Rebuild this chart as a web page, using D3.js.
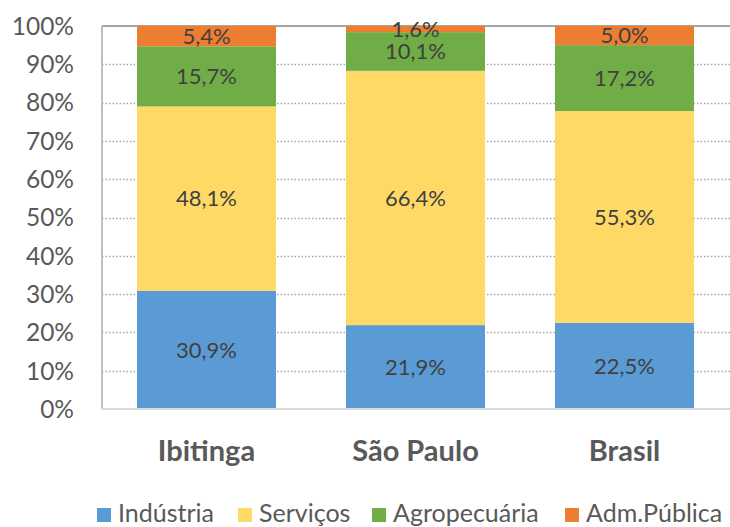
<!DOCTYPE html>
<html>
<head>
<meta charset="utf-8">
<script src="https://cdn.jsdelivr.net/npm/d3@7"></script>
<style>
  html, body { margin: 0; padding: 0; background: #fff; }
  svg { display: block; font-family: Lato, "Open Sans", sans-serif; }
</style>
</head>
<body>
<svg id="chart" width="730" height="527"></svg>
<script>
// Composição do valor adicionado por setor (%)
const regions = ["Ibitinga", "São Paulo", "Brasil"];
const sectors = ["Indústria", "Serviços", "Agropecuária", "Adm.Pública"];
const industria    = [30.9, 21.9, 22.5];
const servicos     = [48.1, 66.4, 55.3];
const agropecuaria = [15.7, 10.1, 17.2];
const admPublica   = [5.4, 1.6, 5.0];
const yTicks = [0, 10, 20, 30, 40, 50, 60, 70, 80, 90, 100];
const colors = ["#5B9BD5", "#FFD966", "#70AD47", "#ED7D31"];

const rows = regions.map((r, i) => ({
  region: r,
  "Indústria": industria[i],
  "Serviços": servicos[i],
  "Agropecuária": agropecuaria[i],
  "Adm.Pública": admPublica[i]
}));

const svg = d3.select("#chart");
const margin = { left: 102, right: 1, top: 26, bottom: 118 };
const W = 730, H = 527;
const x = d3.scaleBand().domain(regions)
  .range([margin.left, W - margin.right]).paddingInner(0.335).paddingOuter(0.1675);
const y = d3.scaleLinear().domain([0, 100]).range([H - margin.bottom, margin.top]);
const color = d3.scaleOrdinal().domain(sectors).range(colors);

// Linhas de grade pontilhadas
svg.append("g").selectAll("line")
  .data(yTicks.filter(t => t > 0 && t < 100))
  .join("line")
  .attr("x1", margin.left).attr("x2", W)
  .attr("y1", d => Math.round(y(d)) + 0.5).attr("y2", d => Math.round(y(d)) + 0.5)
  .attr("stroke", "#A6A6A6").attr("stroke-width", 1.5)
  .attr("stroke-dasharray", "1.5,2");

// Borda superior e eixo esquerdo
svg.append("line").attr("x1", margin.left).attr("x2", W)
  .attr("y1", y(100)).attr("y2", y(100))
  .attr("stroke", "#A6A6A6").attr("stroke-width", 2);
svg.append("line").attr("x1", margin.left).attr("x2", margin.left)
  .attr("y1", y(100)).attr("y2", y(0))
  .attr("stroke", "#BFBFBF").attr("stroke-width", 2);

// Barras empilhadas
const stack = d3.stack().keys(sectors)(rows);
const clampY = v => y(Math.min(v, 100));
const layers = svg.append("g").selectAll("g").data(stack).join("g")
  .attr("fill", d => color(d.key));
layers.selectAll("rect").data(d => d).join("rect")
  .attr("x", d => x(d.data.region))
  .attr("width", x.bandwidth())
  .attr("y", d => clampY(d[1]))
  .attr("height", d => clampY(d[0]) - clampY(d[1]));

// Eixo horizontal (linha base)
svg.append("line").attr("x1", margin.left).attr("x2", W)
  .attr("y1", y(0)).attr("y2", y(0))
  .attr("stroke", "#D9D9D9").attr("stroke-width", 2);

// Rótulos de dados
const fmt = v => v.toFixed(1).replace(".", ",") + "%";
const labels = svg.append("g").attr("font-size", 22).attr("fill", "#404040")
  .attr("text-anchor", "middle");
stack.forEach(layer => {
  layer.forEach(d => {
    const v = d.data[layer.key];
    labels.append("text")
      .attr("x", x(d.data.region) + x.bandwidth() / 2)
      .attr("y", (clampY(d[0]) + clampY(d[1])) / 2)
      .attr("dy", "0.36em")
      .text(fmt(v));
  });
});

// Rótulos do eixo Y
svg.append("g").attr("font-size", 24.5).attr("fill", "#595959").attr("text-anchor", "end")
  .selectAll("text").data(yTicks).join("text")
  .attr("x", 74).attr("y", d => y(d)).attr("dy", "0.36em")
  .text(d => d + "%");

// Rótulos das categorias
svg.append("g").attr("font-size", 29).attr("font-weight", "bold").attr("fill", "#595959")
  .attr("text-anchor", "middle")
  .selectAll("text").data(regions).join("text")
  .attr("x", d => x(d) + x.bandwidth() / 2).attr("y", 461)
  .text(d => d);

// Legenda
const legendX = [97, 238, 372, 565];
const legend = svg.append("g").selectAll("g").data(sectors).join("g")
  .attr("transform", (d, i) => `translate(${legendX[i]},515)`);
legend.append("rect").attr("x", 0).attr("y", -7).attr("width", 14).attr("height", 14)
  .attr("fill", d => color(d));
legend.append("text").attr("x", 21).attr("y", 7)
  .attr("font-size", 25).attr("fill", "#595959").text(d => d);
</script>
</body>
</html>
